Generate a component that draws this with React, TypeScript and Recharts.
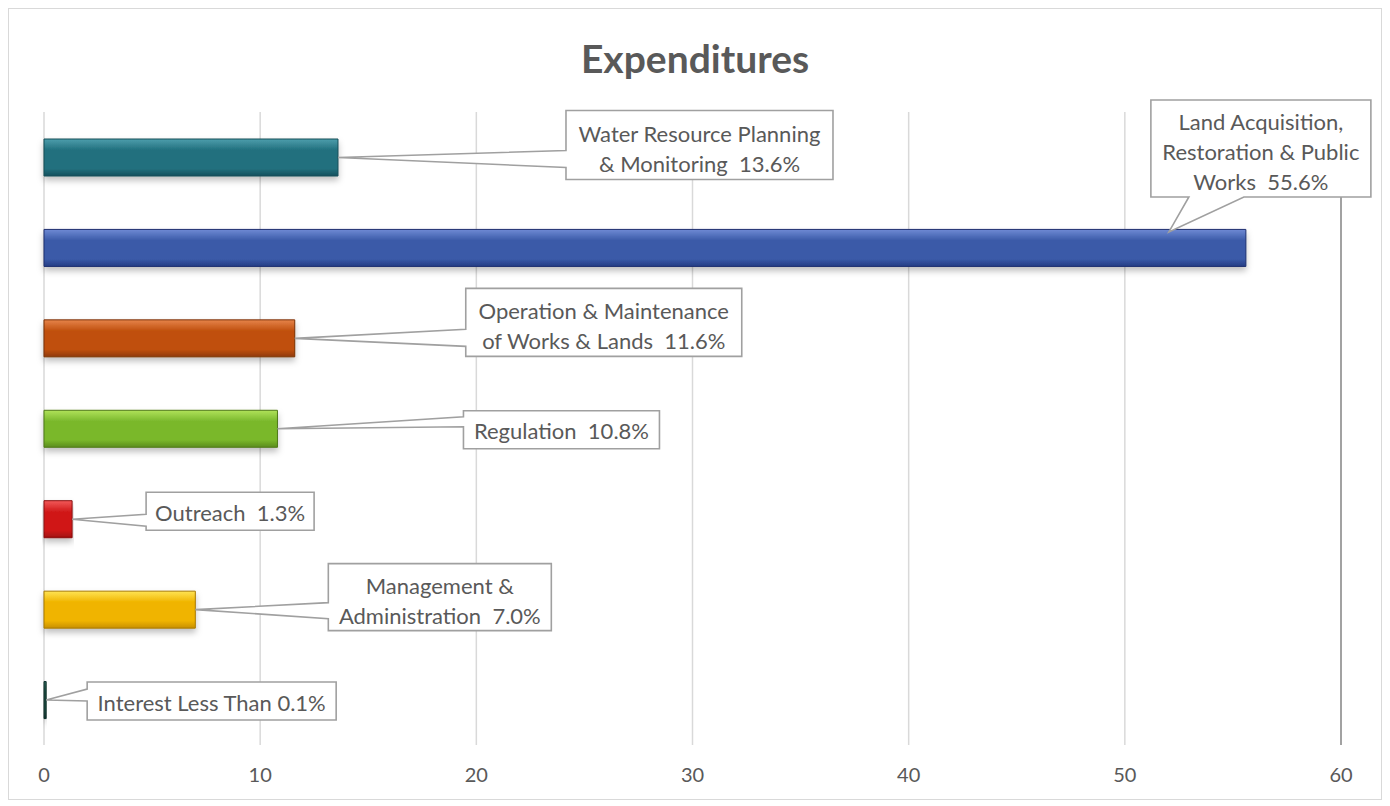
import { BarChart, Bar, XAxis, YAxis, CartesianGrid, ReferenceLine, LabelList, Cell } from 'recharts';

const CATEGORIES = [
  'Water Resource Planning & Monitoring',
  'Land Acquisition, Restoration & Public Works',
  'Operation & Maintenance of Works & Lands',
  'Regulation',
  'Outreach',
  'Management & Administration',
  'Interest',
];
const VALUES = [13.6, 55.6, 11.6, 10.8, 1.3, 7.0, 0.1];
const LABEL_LINES = [
  ['Water Resource Planning', '& Monitoring  13.6%'],
  ['Land Acquisition,', 'Restoration & Public', 'Works  55.6%'],
  ['Operation & Maintenance', 'of Works & Lands  11.6%'],
  ['Regulation  10.8%'],
  ['Outreach  1.3%'],
  ['Management &', 'Administration  7.0%'],
  ['Interest Less Than 0.1%'],
];
const X_TICKS = [0, 10, 20, 30, 40, 50, 60];

// [top highlight, base, bottom shade, outline]
const BAR_COLORS = [
  ['#4d9eac', '#22707e', '#13505c', '#154f59'],
  ['#6f8ad4', '#3b5aa8', '#233d85', '#1f3170'],
  ['#e6844a', '#c0500e', '#8f3a08', '#7a3106'],
  ['#b0e25a', '#7ab82c', '#5a8c1c', '#4f7a18'],
  ['#f25a5a', '#d01818', '#a01010', '#8a0e0e'],
  ['#ffe455', '#f0b400', '#c89000', '#a87a00'],
  ['#2f6a5e', '#1a4a40', '#10302a', '#10302a'],
];

// callout boxes, placed relative to the bar end
const CALLOUTS = [
  { dx: 228, dy: -47, w: 267, h: 69, side: 'left', a: 40, b: 57, ax: 0, ay: 0 },
  { dx: -95, dy: -148, w: 220, h: 97, side: 'bottom', a: 38, b: 93, ax: -77, ay: -16 },
  { dx: 171, dy: -50, w: 276, h: 68, side: 'left', a: 41, b: 58, ax: 0, ay: 0 },
  { dx: 186, dy: -18, w: 196, h: 38, side: 'left', a: 6, b: 16, ax: 0, ay: 0 },
  { dx: 74, dy: -27, w: 168, h: 38, side: 'left', a: 22, b: 34, ax: 0, ay: 0 },
  { dx: 133, dy: -46, w: 223, h: 67, side: 'left', a: 39, b: 55, ax: 0, ay: 0 },
  { dx: 41, dy: -18, w: 249, h: 38, side: 'left', a: 7, b: 19, ax: 0, ay: 0 },
];

const data = CATEGORIES.map((name, i) => ({ name, value: VALUES[i] }));

const FONT = 'Lato, "Open Sans", sans-serif';
const TEXT_COLOR = '#595959';

function Callout(props: any) {
  const { x, y, width, height, index } = props;
  const c = CALLOUTS[index];
  const lines = LABEL_LINES[index];
  const ex = Number(x) + Number(width);
  const ey = Number(y) + Number(height) / 2;
  const L = ex + c.dx;
  const T = ey + c.dy;
  const R = L + c.w;
  const B = T + c.h;
  const px = ex + c.ax;
  const py = ey + c.ay;
  let d: string;
  if (c.side === 'left') {
    d = `M${L},${T} H${R} V${B} H${L} V${T + c.b} L${px},${py} L${L},${T + c.a} Z`;
  } else {
    d = `M${L},${T} H${R} V${B} H${L + c.b} L${px},${py} L${L + c.a},${B} H${L} Z`;
  }
  const cx = (L + R) / 2;
  const cy = (T + B) / 2 + (lines.length > 1 ? 3 : 1);
  const lh = 30;
  const start = cy - ((lines.length - 1) * lh) / 2;
  return (
    <g>
      <path d={d} fill="#ffffff" stroke="#a0a0a0" strokeWidth={1.6} />
      {lines.map((ln, k) => (
        <text
          key={k}
          x={cx}
          y={start + k * lh}
          textAnchor="middle"
          dominantBaseline="central"
          fill={TEXT_COLOR}
          fontSize={22}
          fontFamily={FONT}
          style={{ whiteSpace: 'pre' }}
        >
          {ln}
        </text>
      ))}
    </g>
  );
}

export default function App() {
  return (
    <div
      style={{
        position: 'relative',
        width: 1372,
        height: 790,
        border: '1px solid #d9d9d9',
        background: '#ffffff',
        fontFamily: FONT,
      }}
    >
      <div
        style={{
          position: 'absolute',
          top: 27,
          left: 0,
          width: '100%',
          textAlign: 'center',
          fontSize: 39,
          fontWeight: 700,
          color: TEXT_COLOR,
          lineHeight: '44px',
        }}
      >
        Expenditures
      </div>
      <BarChart
        width={1372}
        height={790}
        data={data}
        layout="vertical"
        margin={{ top: 103, right: 40, bottom: 24, left: 35 }}
      >
        <defs>
          {BAR_COLORS.map((c, i) => (
            <linearGradient key={i} id={`barGrad${i}`} x1="0" y1="0" x2="0" y2="1">
              <stop offset="0%" stopColor={c[0]} />
              <stop offset="30%" stopColor={c[1]} />
              <stop offset="80%" stopColor={c[1]} />
              <stop offset="100%" stopColor={c[2]} />
            </linearGradient>
          ))}
          <filter id="barShadow" x="-5%" y="-30%" width="110%" height="180%">
            <feDropShadow dx="0" dy="4" stdDeviation="3" floodColor="#000" floodOpacity="0.25" />
          </filter>
        </defs>
        <CartesianGrid horizontal={false} stroke="#d9d9d9" strokeWidth={1.5} />
        <ReferenceLine x={60} stroke="#8c8c8c" strokeWidth={1.5} />
        <XAxis
          type="number"
          domain={[0, 60]}
          ticks={X_TICKS}
          axisLine={false}
          tickLine={false}
          tickMargin={17}
          tick={{ fill: TEXT_COLOR, fontSize: 20, fontFamily: FONT }}
        />
        <YAxis type="category" dataKey="name" hide />
        <Bar dataKey="value" barSize={37} isAnimationActive={false} filter="url(#barShadow)">
          {data.map((_d, i) => (
            <Cell key={i} fill={`url(#barGrad${i})`} stroke={BAR_COLORS[i][3]} strokeWidth={1} />
          ))}
          <LabelList dataKey="value" content={Callout} />
        </Bar>
      </BarChart>
    </div>
  );
}
